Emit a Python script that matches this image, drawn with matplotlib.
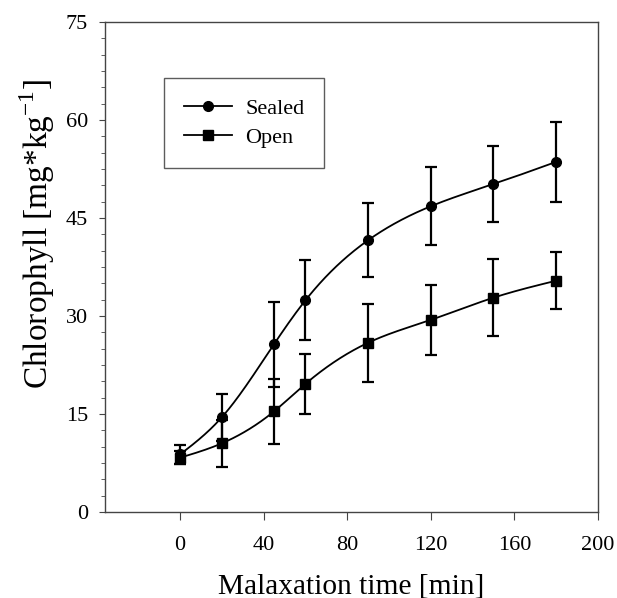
import numpy as np
import matplotlib
matplotlib.use("Agg")
import matplotlib.pyplot as plt
from matplotlib.ticker import MultipleLocator
from matplotlib.lines import Line2D

time = [0, 20, 45, 60, 90, 120, 150, 180]
sealed = [8.8, 14.5, 25.7, 32.4, 41.6, 46.8, 50.2, 53.6]
sealed_err = [1.5, 3.6, 6.5, 6.1, 5.7, 6.0, 5.8, 6.1]
open_ = [8.3, 10.5, 15.4, 19.6, 25.9, 29.4, 32.8, 35.4]
open_err = [1.0, 3.6, 5.0, 4.6, 6.0, 5.4, 5.9, 4.4]


def natural_spline(x, y, n=400):
    x = np.asarray(x, float)
    y = np.asarray(y, float)
    k = len(x)
    h = np.diff(x)
    A = np.zeros((k, k))
    b = np.zeros(k)
    A[0, 0] = A[-1, -1] = 1
    for i in range(1, k - 1):
        A[i, i - 1] = h[i - 1]
        A[i, i] = 2 * (h[i - 1] + h[i])
        A[i, i + 1] = h[i]
        b[i] = 3 * ((y[i + 1] - y[i]) / h[i] - (y[i] - y[i - 1]) / h[i - 1])
    c = np.linalg.solve(A, b)
    xs = np.linspace(x[0], x[-1], n)
    ys = np.empty_like(xs)
    for j, xv in enumerate(xs):
        i = min(np.searchsorted(x, xv, side="right") - 1, k - 2)
        dx = xv - x[i]
        bb = (y[i + 1] - y[i]) / h[i] - h[i] * (2 * c[i] + c[i + 1]) / 3
        d = (c[i + 1] - c[i]) / (3 * h[i])
        ys[j] = y[i] + bb * dx + c[i] * dx ** 2 + d * dx ** 3
    return xs, ys


plt.rcParams["font.family"] = ["Liberation Serif", "DejaVu Serif"]
fig = plt.figure(figsize=(6.17, 5.98), dpi=100)
ax = fig.add_axes([0.170, 0.144, 0.799, 0.819])

for vals, errs, mk, ms in [(sealed, sealed_err, "o", 7), (open_, open_err, "s", 6.5)]:
    xs, ys = natural_spline(time, vals)
    ax.plot(xs, ys, color="black", lw=1.3, zorder=2)
    ax.errorbar(time, vals, yerr=errs, fmt="none", ecolor="black",
                elinewidth=1.6, capsize=4.5, capthick=1.6, zorder=3)
    ax.plot(time, vals, linestyle="none", marker=mk, ms=ms, color="black", zorder=4)

ax.set_xlim(-36, 200)
ax.set_ylim(0, 75)
ax.set_xticks([0, 40, 80, 120, 160, 200])
ax.set_yticks([0, 15, 30, 45, 60, 75])
ax.yaxis.set_minor_locator(MultipleLocator(2.5))
ax.tick_params(axis="both", which="major", direction="out", labelsize=16, color="#444")
ax.tick_params(axis="x", which="major", length=6, pad=11.5)
ax.tick_params(axis="y", which="major", length=4, pad=8)
ax.tick_params(axis="y", which="minor", length=3, color="#444")
for s in ax.spines.values():
    s.set_color("#444")
    s.set_linewidth(1.0)

ax.set_xlabel("Malaxation time [min]", fontsize=21.2, labelpad=13)
ax.set_ylabel("Chlorophyll [mg*kg$^{\\mathregular{-1}}$]", fontsize=24)
ax.yaxis.set_label_coords(-0.097, 0.567)

handles = [
    Line2D([], [], color="black", lw=1.3, marker="o", ms=7),
    Line2D([], [], color="black", lw=1.3, marker="s", ms=6.5),
]
leg = ax.legend(handles, ["Sealed", "Open"], loc="upper left",
                bbox_to_anchor=(0.12, 0.886), fontsize=16, frameon=True,
                fancybox=False, edgecolor="#333", handlelength=2.15,
                borderpad=0.9, labelspacing=0.39, handletextpad=0.6,
                borderaxespad=0)
leg.get_frame().set_linewidth(1.0)

fig.savefig("out.png", dpi=100)
